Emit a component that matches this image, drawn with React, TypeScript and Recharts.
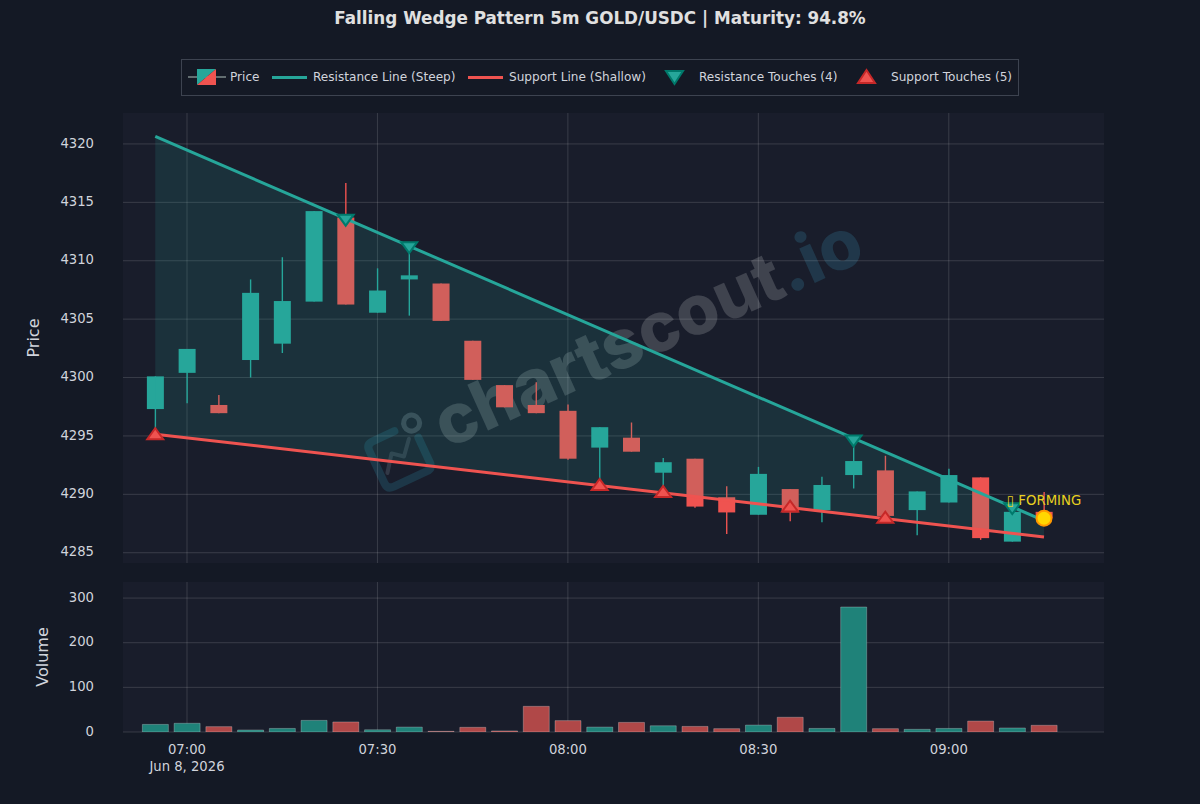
import React from 'react';
import { Area, Bar, CartesianGrid, Cell, ComposedChart, Line, Scatter, XAxis, YAxis } from 'recharts';

const FONT = '"DejaVu Sans", sans-serif';
const UP = '#26a69a';
const DOWN = '#ef5350';

const minutes = [415, 420, 425, 430, 435, 440, 445, 450, 455, 460, 465, 470, 475, 480, 485, 490, 495, 500, 505, 510, 515, 520, 525, 530, 535, 540, 545, 550, 555];
const opens = [4297.3, 4300.4, 4297.65, 4301.5, 4302.9, 4306.5, 4313.7, 4305.55, 4308.4, 4308.05, 4303.15, 4299.35, 4297.65, 4297.15, 4294.0, 4294.85, 4291.85, 4293.05, 4289.75, 4288.25, 4290.45, 4288.65, 4291.65, 4292.05, 4288.65, 4289.3, 4291.45, 4285.95, 4288.5];
const highs = [4300.1, 4302.45, 4298.5, 4308.4, 4310.3, 4314.25, 4316.65, 4309.35, 4311.2, 4308.05, 4303.15, 4299.35, 4299.6, 4297.7, 4295.75, 4296.15, 4293.1, 4293.05, 4290.7, 4292.35, 4290.45, 4291.5, 4294.6, 4293.3, 4290.25, 4292.2, 4291.45, 4288.9, 4290.2];
const lows = [4295.2, 4297.8, 4296.95, 4300.0, 4302.1, 4306.5, 4306.25, 4305.55, 4305.3, 4304.85, 4299.8, 4297.45, 4296.95, 4292.95, 4290.9, 4293.65, 4290.4, 4288.85, 4286.6, 4288.25, 4287.7, 4287.6, 4290.5, 4287.9, 4286.5, 4289.3, 4286.1, 4285.95, 4287.95];
const closes = [4300.1, 4302.45, 4296.95, 4307.25, 4306.55, 4314.25, 4306.25, 4307.45, 4308.75, 4304.85, 4299.8, 4297.45, 4296.95, 4293.05, 4295.75, 4293.65, 4292.75, 4288.95, 4288.45, 4291.75, 4288.45, 4290.8, 4292.85, 4288.15, 4290.25, 4291.65, 4286.25, 4288.5, 4287.95];
const volumes = [17, 19.5, 12, 4.5, 8, 26, 22.5, 5, 11, 1.5, 10.5, 2.5, 57.5, 25.5, 11, 21.5, 14, 12.5, 7.5, 15.5, 33, 8, 280, 7.5, 6, 8, 24.5, 9, 15];

// trend lines only have their two end points
const resistanceLine = [4320.65, 4287.75];
const supportLine = [4295.15, 4286.35];

const resistanceMinutes = [445, 455, 525, 550];
const resistanceValues = [4313.6, 4311.25, 4294.7, 4288.9];
const supportMinutes = [415, 485, 495, 515, 530];
const supportValues = [4295.15, 4290.8, 4290.2, 4288.95, 4288.0];
const formingMinutes = [555];
const formingValues = [4287.95];

const priceTicks = [4285, 4290, 4295, 4300, 4305, 4310, 4315, 4320];
const volumeTicks = [0, 100, 200, 300];
const timeTicks = [420, 450, 480, 510, 540];
const timeLabels = ['07:00', '07:30', '08:00', '08:30', '09:00'];

const X_DOMAIN = [409.92, 564.45];
const last = minutes.length - 1;

const rows = minutes.map((minute, i) => ({
  minute,
  open: opens[i],
  high: highs[i],
  low: lows[i],
  close: closes[i],
  volume: volumes[i],
  resistance: i === 0 ? resistanceLine[0] : i === last ? resistanceLine[1] : null,
  support: i === 0 ? supportLine[0] : i === last ? supportLine[1] : null,
  wedge: i === 0 ? [supportLine[0], resistanceLine[0]] : i === last ? [supportLine[1], resistanceLine[1]] : null,
}));

const resistanceTouches = resistanceMinutes.map((minute, i) => ({ minute, value: resistanceValues[i] }));
const supportTouches = supportMinutes.map((minute, i) => ({ minute, value: supportValues[i] }));
const formingPoint = formingMinutes.map((minute, i) => ({ minute, value: formingValues[i] }));

function Candle(props: any) {
  const { x, y, width, height, payload } = props;
  const { open, close, high, low } = payload;
  const perUnit = height / (high - low);
  const top = y + (high - Math.max(open, close)) * perUnit;
  const bodyHeight = Math.abs(close - open) * perUnit;
  const color = close >= open ? UP : DOWN;
  const mid = x + width / 2 + 0.5;
  return (
    <g>
      <line x1={mid} x2={mid} y1={y} y2={y + height} stroke={color} strokeWidth={1.4} />
      <rect x={x + 0.5} y={top} width={width} height={bodyHeight} fill={color} />
    </g>
  );
}

function DownMarker(props: any) {
  const { cx, cy } = props;
  return <path d={`M${cx - 8},${cy - 4} L${cx + 8},${cy - 4} L${cx},${cy + 7} Z`} fill={UP} stroke="#00796b" strokeWidth={2} />;
}

function UpMarker(props: any) {
  const { cx, cy } = props;
  return <path d={`M${cx - 8},${cy + 5} L${cx + 8},${cy + 5} L${cx},${cy - 6} Z`} fill={DOWN} stroke="#c62828" strokeWidth={2} />;
}

function FormingMarker(props: any) {
  const { cx, cy } = props;
  return (
    <g>
      <circle cx={cx} cy={cy} r={7.5} fill="#ffd700" stroke="#ff9800" strokeWidth={2} />
      <text x={cx} y={cy - 13} textAnchor="middle" fill="#e8d020" fontSize={13.3} fontFamily={FONT}>
        {'\u25AF FORMING'}
      </text>
    </g>
  );
}

function TimeTick(props: any) {
  const { x, y, payload } = props;
  const idx = timeTicks.indexOf(payload.value);
  return (
    <g>
      <text x={x} y={y + 14} textAnchor="middle" fill="#d1d4dc" fontSize={13.2} fontFamily={FONT}>
        {timeLabels[idx]}
      </text>
      {idx === 0 && (
        <text x={x} y={y + 31} textAnchor="middle" fill="#d1d4dc" fontSize={13.2} fontFamily={FONT}>
          Jun 8, 2026
        </text>
      )}
    </g>
  );
}

function PriceSwatch() {
  return (
    <svg width={38} height={18} style={{ position: 'absolute', left: 188, top: 68 }}>
      <line x1={0} x2={38} y1={9} y2={9} stroke="#7d8a8a" strokeWidth={1.5} />
      <path d="M9,1 L28,1 L9,17 Z" fill={UP} />
      <path d="M28,1 L28,17 L9,17 Z" fill={DOWN} />
    </svg>
  );
}

function LegendText({ left, children }: { left: number; children: React.ReactNode }) {
  return (
    <span style={{ position: 'absolute', left, top: 70, fontFamily: FONT, fontSize: 12.1, color: '#d1d4dc', whiteSpace: 'nowrap' }}>
      {children}
    </span>
  );
}

function LegendBar({ left, color }: { left: number; color: string }) {
  return <div style={{ position: 'absolute', left, top: 75.5, width: 35, height: 3, background: color }} />;
}

function LegendMarker({ left, up }: { left: number; up: boolean }) {
  return (
    <svg width={22} height={18} style={{ position: 'absolute', left, top: 68 }}>
      {up
        ? <path d="M2,15 L19,15 L10.5,2 Z" fill={DOWN} stroke="#c62828" strokeWidth={2} />
        : <path d="M2,3 L19,3 L10.5,16 Z" fill={UP} stroke="#00796b" strokeWidth={2} />}
    </svg>
  );
}

function Watermark() {
  return (
    <svg width={1200} height={804} style={{ position: 'absolute', left: 0, top: 0 }}>
      <g transform="rotate(-25 400 455)" fill="none" strokeLinecap="round" strokeLinejoin="round">
        <path d="M405,431 L381,431 Q374,431 374,438 L374,474 Q374,481 381,481 L417,481 Q424,481 424,474 L424,447" stroke="#1f4a5c" strokeOpacity={0.6} strokeWidth={8} />
        <circle cx={424} cy={431} r={8} stroke="#4b5563" strokeOpacity={0.7} strokeWidth={5} />
        <path d="M381,466 L393,450 L403,458 L415,444" stroke="#3d4552" strokeOpacity={0.7} strokeWidth={4} />
      </g>
      <text x={447} y={449} transform="rotate(-24.3 447 449)" fontFamily="Inter, sans-serif" fontWeight={800} fontSize={69} fill="#ffffff" fillOpacity={0.17}>
        chartscout<tspan fill="#2f6a85" fillOpacity={0.35}>.io</tspan>
      </text>
    </svg>
  );
}

export default function App() {
  return (
    <div style={{ position: 'absolute', left: 0, top: 0, width: 1200, height: 804, background: '#141925', overflow: 'hidden' }}>
      <div style={{ position: 'absolute', left: 123, top: 113, width: 981, height: 450, background: '#191d2b' }} />
      <div style={{ position: 'absolute', left: 123, top: 582, width: 981, height: 150, background: '#191d2b' }} />
      <Watermark />

      <div style={{ position: 'absolute', left: 0, top: 8, width: 1200, textAlign: 'center', fontFamily: FONT, fontWeight: 700, fontSize: 16.8, color: '#e0e0e0' }}>
        Falling Wedge Pattern 5m GOLD/USDC | Maturity: 94.8%
      </div>

      <div style={{ position: 'absolute', left: 181, top: 59, width: 836, height: 35, border: '1px solid #3d4350' }} />
      <PriceSwatch />
      <LegendText left={230}>Price</LegendText>
      <LegendBar left={272} color={UP} />
      <LegendText left={313}>Resistance Line (Steep)</LegendText>
      <LegendBar left={468} color={DOWN} />
      <LegendText left={509}>Support Line (Shallow)</LegendText>
      <LegendMarker left={664} up={false} />
      <LegendText left={699}>Resistance Touches (4)</LegendText>
      <LegendMarker left={856} up />
      <LegendText left={891}>Support Touches (5)</LegendText>

      <div style={{ position: 'absolute', left: 0, top: 0 }}>
        <ComposedChart width={1200} height={570} data={rows} margin={{ top: 113, left: 63, right: 96, bottom: 7 }}>
          <CartesianGrid stroke="#ffffff" strokeOpacity={0.14} verticalValues={timeTicks} horizontalValues={priceTicks} />
          <XAxis dataKey="minute" type="number" domain={X_DOMAIN} ticks={timeTicks} hide allowDataOverflow />
          <YAxis
            type="number"
            domain={[4284.12, 4322.65]}
            ticks={priceTicks}
            width={60}
            allowDataOverflow
            axisLine={false}
            tickLine={false}
            tickSize={0}
            tickMargin={29}
            tick={{ fill: '#d1d4dc', fontSize: 13.2, fontFamily: FONT, dy: -1 }}
            label={{ value: 'Price', angle: -90, position: 'insideLeft', offset: -30, textAnchor: 'middle', fill: '#d1d4dc', fontSize: 16, fontFamily: FONT }}
          />
          <Bar dataKey={(d: any) => [d.low, d.high]} barSize={17} shape={Candle} isAnimationActive={false} zIndex={300} />
          <Area dataKey="wedge" connectNulls stroke="none" fill={UP} fillOpacity={0.15} isAnimationActive={false} dot={false} activeDot={false} zIndex={350} />
          <Line dataKey="resistance" connectNulls stroke={UP} strokeWidth={3} dot={false} activeDot={false} isAnimationActive={false} zIndex={400} />
          <Line dataKey="support" connectNulls stroke={DOWN} strokeWidth={3} dot={false} activeDot={false} isAnimationActive={false} zIndex={400} />
          <Scatter data={resistanceTouches} dataKey="value" shape={DownMarker} isAnimationActive={false} zIndex={600} />
          <Scatter data={supportTouches} dataKey="value" shape={UpMarker} isAnimationActive={false} zIndex={600} />
          <Scatter data={formingPoint} dataKey="value" shape={FormingMarker} isAnimationActive={false} zIndex={600} />
        </ComposedChart>
      </div>

      <div style={{ position: 'absolute', left: 0, top: 570 }}>
        <ComposedChart width={1200} height={220} data={rows} margin={{ top: 12, left: 63, right: 96, bottom: 0 }}>
          <CartesianGrid stroke="#ffffff" strokeOpacity={0.14} verticalValues={timeTicks} horizontalValues={volumeTicks} />
          <XAxis
            dataKey="minute"
            type="number"
            domain={X_DOMAIN}
            ticks={timeTicks}
            height={58}
            allowDataOverflow
            axisLine={false}
            tickLine={false}
            tick={TimeTick}
            interval={0}
          />
          <YAxis
            type="number"
            domain={[0, 336]}
            ticks={volumeTicks}
            width={60}
            allowDataOverflow
            axisLine={false}
            tickLine={false}
            tickSize={0}
            tickMargin={29}
            tick={{ fill: '#d1d4dc', fontSize: 13.2, fontFamily: FONT, dy: -1 }}
            label={{ value: 'Volume', angle: -90, position: 'insideLeft', offset: -21, textAnchor: 'middle', fill: '#d1d4dc', fontSize: 16, fontFamily: FONT }}
          />
          <Bar dataKey="volume" barSize={26} stroke="#ffffff" strokeOpacity={0.25} isAnimationActive={false}>
            {rows.map((r) => (
              <Cell key={r.minute} fill={r.close >= r.open ? '#1f8279' : '#b04848'} />
            ))}
          </Bar>
        </ComposedChart>
      </div>
    </div>
  );
}
